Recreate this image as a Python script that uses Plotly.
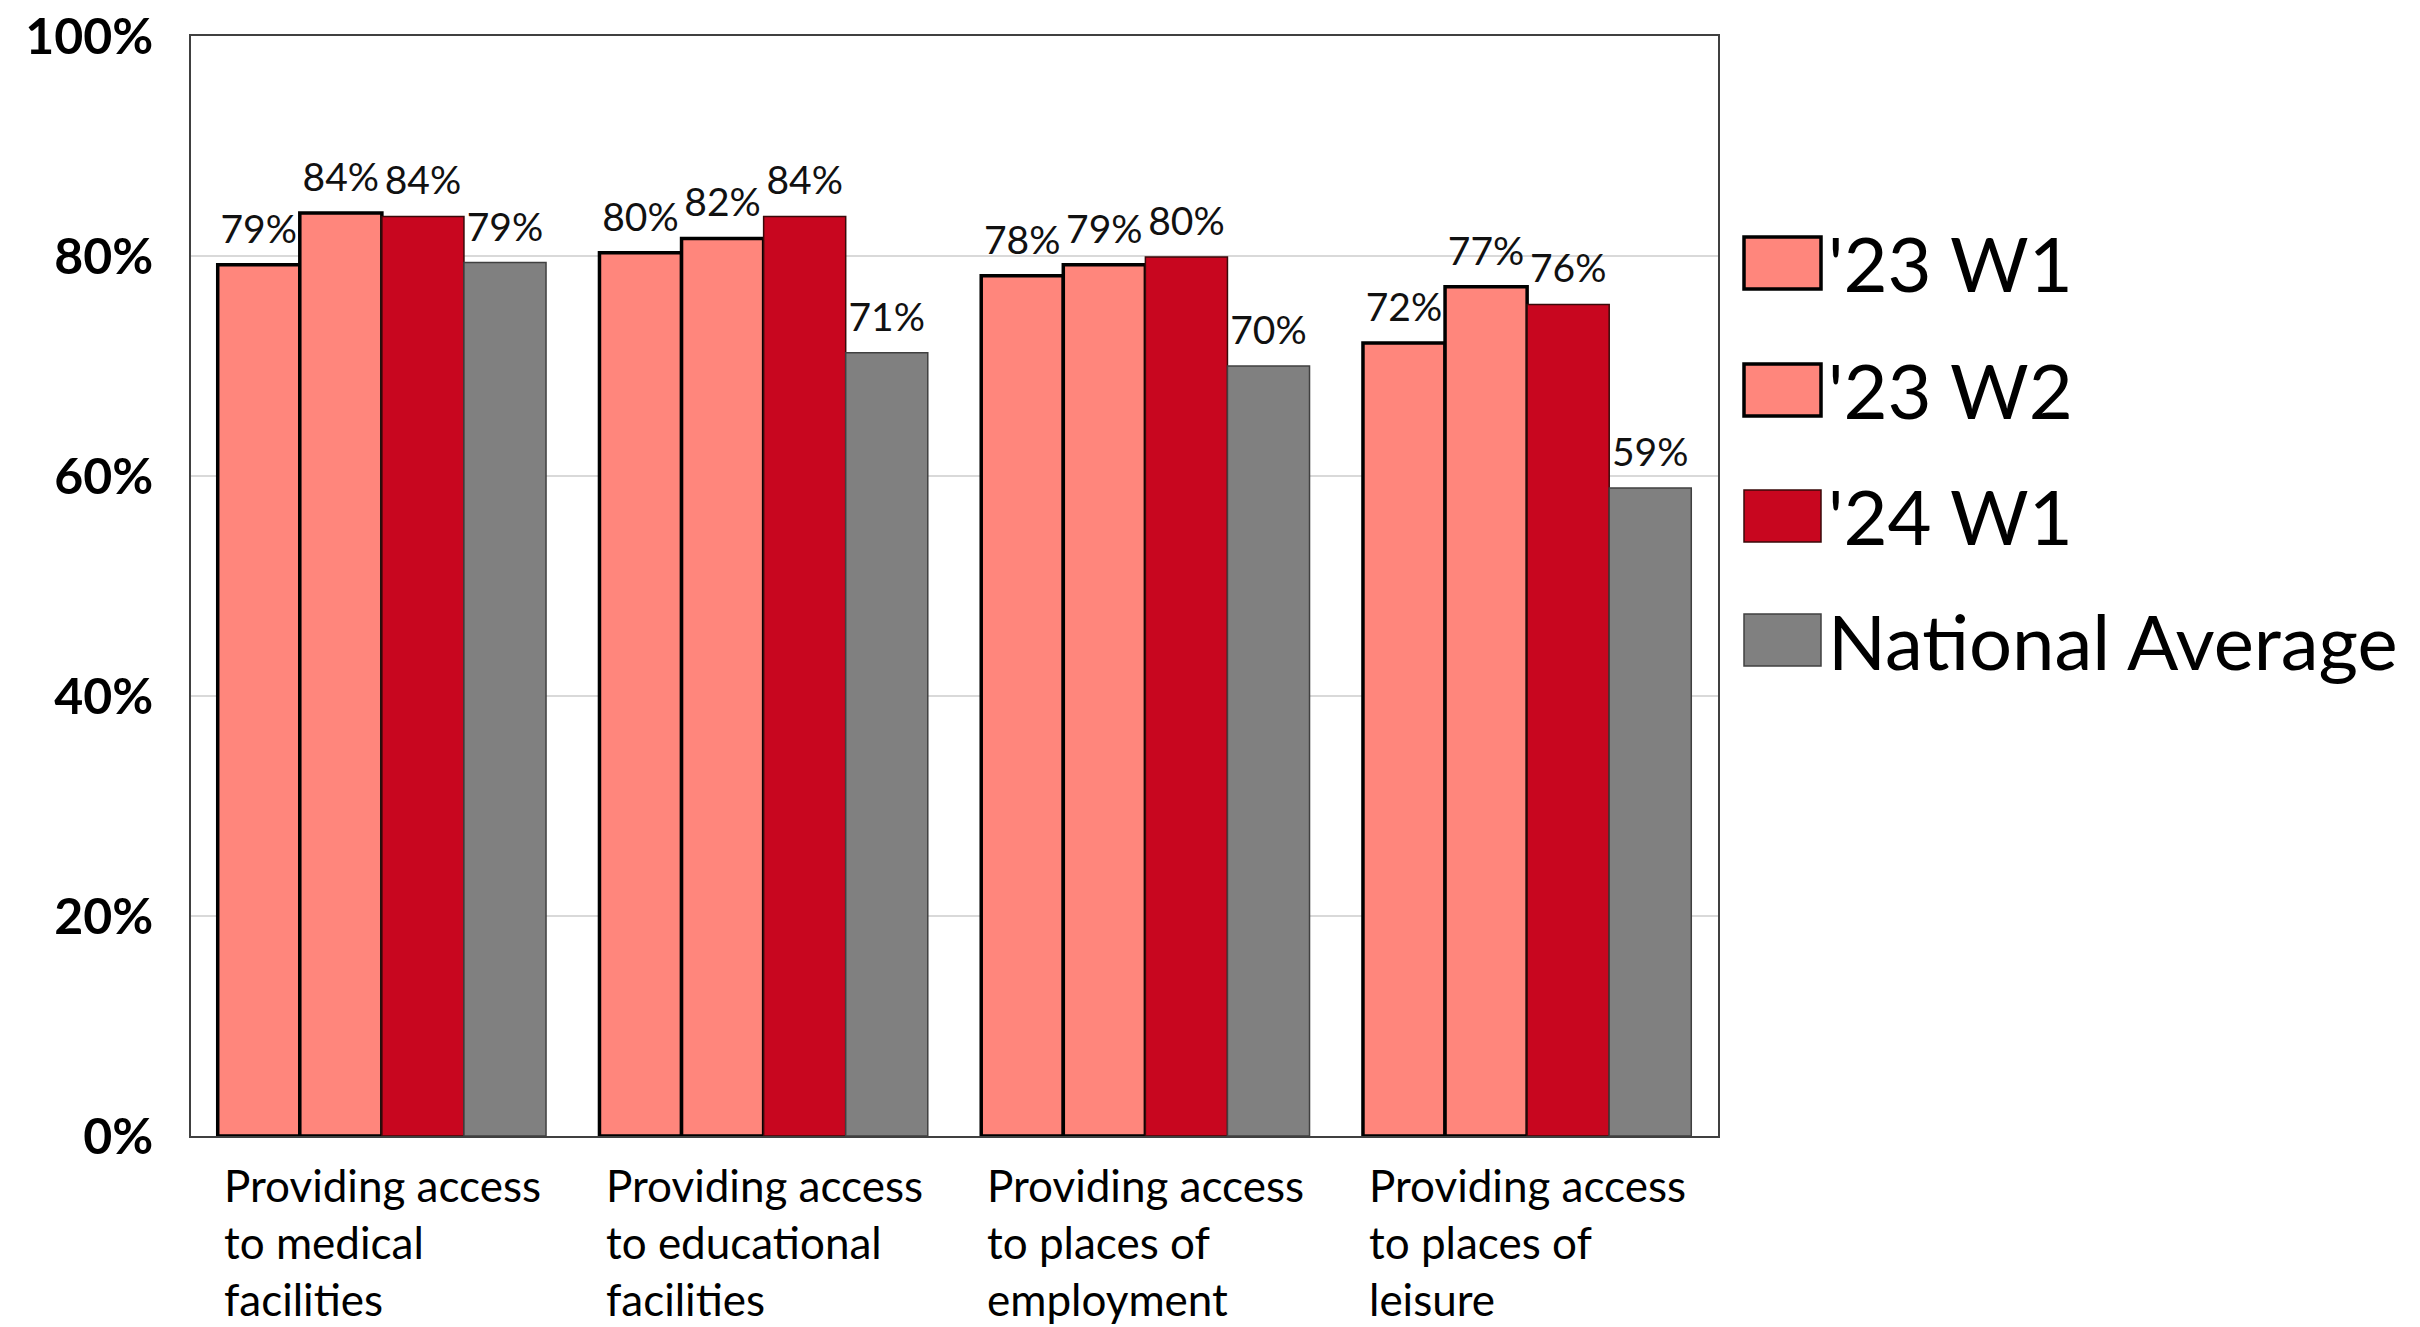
import plotly.graph_objects as go

categories = ["Providing access<br>to medical<br>facilities",
              "Providing access<br>to educational<br>facilities",
              "Providing access<br>to places of<br>employment",
              "Providing access<br>to places of<br>leisure"]
cat_keys = ["medical", "educational", "employment", "leisure"]
series_names = ["'23 W1", "'23 W2", "'24 W1", "National Average"]
w23_1 = [79.2, 80.3, 78.2, 72.1]
w23_2 = [83.9, 81.6, 79.2, 77.2]
w24_1 = [83.6, 83.6, 79.9, 75.6]
nat_avg = [79.4, 71.2, 70.0, 58.9]
y_ticks = [0, 20, 40, 60, 80, 100]
y_tick_text = ["0%", "20%", "40%", "60%", "80%", "100%"]

# page has an 8px body margin; the figure fills the rest of the 2420x1327 window
W, H = 2412, 1319
L, R, T, B = 183, 702, 28, 191
FONT = "Lato"
GAP = 0.14

fills = ["#FF867C", "#FF867C", "#C8061F", "#808080"]
line_cols = ["#000000", "#000000", "#3A0A0A", "#404040"]
line_w = [3.5, 3.5, 1.5, 1.5]
values = [w23_1, w23_2, w24_1, nat_avg]

fig = go.Figure()
for name, vals, fc, lc, lw in zip(series_names, values, fills, line_cols, line_w):
    fig.add_trace(go.Bar(
        x=cat_keys, y=vals, name=name,
        marker=dict(color=fc, line=dict(color=lc, width=lw)),
        showlegend=False,
    ))
# value labels as grouped scatter text (same grouping as bars)
for name, vals in zip(series_names, values):
    fig.add_trace(go.Scatter(
        x=cat_keys, y=vals, name=name + " label", mode="markers+text",
        marker=dict(size=18, opacity=0),
        text=[f"{v:.0f}%" for v in vals], textposition="top center",
        textfont=dict(family=FONT, size=39, color="#111111"),
        cliponaxis=False, showlegend=False, hoverinfo="skip",
    ))

fig.update_layout(
    width=W, height=H,
    margin=dict(l=L, r=R, t=T, b=B, autoexpand=False),
    paper_bgcolor="white", plot_bgcolor="white",
    barmode="group", bargap=GAP, bargroupgap=0,
    scattermode="group", scattergap=GAP,
    font=dict(family=FONT, color="#000000"),
    xaxis=dict(showticklabels=False, showline=True, linecolor="#404040", linewidth=1.5,
               mirror=True, showgrid=False, ticks="", automargin=False),
    yaxis=dict(range=[0, 100], tickvals=y_ticks, ticktext=y_tick_text,
               tickfont=dict(family=FONT, size=50, color="#000000", weight="bold"),
               showgrid=True, gridcolor="#D9D9D9", gridwidth=1.5,
               showline=True, linecolor="#404040", linewidth=1.5, mirror=True,
               ticks="", ticklabelstandoff=26, zeroline=False, automargin=False,
               ticklabeloverflow="allow"),
)

# category labels (left aligned, multi-line)
for key, lab in zip(cat_keys, categories):
    fig.add_annotation(x=key, xref="x", y=0, yref="paper", yanchor="top", xanchor="left",
                       xshift=-160, yshift=-21, text=lab, showarrow=False, align="left",
                       font=dict(family=FONT, size=44, color="#000000"))

# custom legend with large swatches (page pixel positions -> paper)
pw, ph = W - L - R, H - T - B
def px_x(x):
    return (x - 8 - L) / pw
def px_y(y):
    return 1 - (y - 8 - T) / ph

centers = [263, 390, 516, 640]
for name, fc, lc, lw, cy in zip(series_names, fills, line_cols, line_w, centers):
    fig.add_shape(type="rect", xref="paper", yref="paper",
                  x0=px_x(1744), x1=px_x(1821), y0=px_y(cy + 26), y1=px_y(cy - 26),
                  fillcolor=fc, line=dict(color=lc, width=lw))
    fig.add_annotation(x=px_x(1826), y=px_y(cy), xref="paper", yref="paper",
                       xanchor="left", yanchor="middle", text=name, showarrow=False,
                       font=dict(family=FONT, size=76, color="#000000"))

fig.write_html("out.html")
